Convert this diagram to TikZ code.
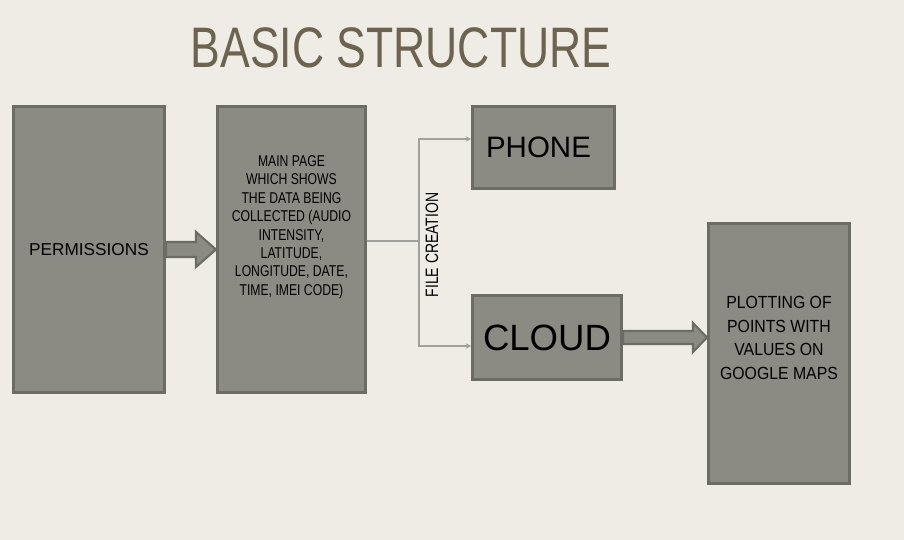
\documentclass[tikz,border=0pt]{standalone}
\usepackage{fontspec}
\setmainfont{Liberation Sans}
\newfontfamily\narrowfont{Liberation Sans}[FakeStretch=0.78]
\newfontfamily\semifont{Liberation Sans}[FakeStretch=0.9]
\usetikzlibrary{positioning, arrows.meta, calc}

\definecolor{bgcol}{RGB}{238,236,228}
\definecolor{boxfill}{RGB}{139,139,131}
\definecolor{boxline}{RGB}{108,108,100}
\definecolor{titlecol}{RGB}{108,99,80}
\definecolor{linkcol}{RGB}{160,160,156}

\begin{document}
\begin{tikzpicture}[x=0.02cm, y=-0.02cm,
        block/.style={draw=boxline, fill=boxfill, line width=1.7pt, rectangle, inner sep=0pt, align=center, text=black},
        bigarrow/.style={draw=boxline, fill=boxfill, line width=1.2pt, line join=miter},
        link/.style={draw=linkcol, line width=0.6pt},
        >={Stealth[length=3pt, width=3pt]}]

        % Fundo
        \fill[bgcol] (0,0) rectangle (904,540);

        % Titulo
        \node (title) [text=titlecol, font=\narrowfont\fontsize{32.5}{35}\selectfont] at (401,48) {BASIC STRUCTURE};

        % Blocos
        \node (perm) [block, minimum width=3.02cm, minimum height=5.72cm, font=\fontsize{9.8}{12}\selectfont] at (89,249.5) {PERMISSIONS};
        \node (main) [block, minimum width=2.96cm, minimum height=5.72cm, right=1cm of perm,
            label={[align=center, yshift=0.45cm, font=\narrowfont\fontsize{8.9}{10.5}\selectfont]center:MAIN PAGE\\WHICH SHOWS\\THE DATA BEING\\COLLECTED (AUDIO\\INTENSITY,\\LATITUDE,\\LONGITUDE, DATE,\\TIME, IMEI CODE)}] {};
        \node (phone) [block, minimum width=2.84cm, minimum height=1.64cm, font=\fontsize{16.8}{20}\selectfont] at (543.5,147.5) {\hspace*{-0.2cm}PHONE};
        \node (cloud) [block, minimum width=2.98cm, minimum height=1.68cm, font=\fontsize{20.8}{24}\selectfont] at (547,337.5) {CLOUD};
        \node (plot) [block, minimum width=2.82cm, minimum height=5.2cm,
            label={[align=center, yshift=0.31cm, font=\semifont\fontsize{10}{13.6}\selectfont]center:PLOTTING OF\\POINTS WITH\\VALUES ON\\GOOGLE MAPS}] at (779,353.5) {};

        % Texto vertical
        \node (file) [rotate=90, font=\narrowfont\fontsize{10.2}{12}\selectfont] at (432,245) {FILE CREATION};

        % Conexoes
        \coordinate (fork) at (419,241);
        \draw[link] (main.east |- fork) -- (fork);
        \draw[link, ->] (fork) |- ($(phone.west)+(0,-8.5)$);
        \draw[link, ->] (fork) |- ($(cloud.west)+(0,8.5)$);

        % Setas grossas
        \draw[bigarrow] ($(perm.east)+(0,-7.5)$) -- ++(30,0) -- ++(0,-10) -- (main.west)
            -- ($(perm.east)+(30,17.5)$) -- ++(0,-10) -- ($(perm.east)+(0,7.5)$) -- cycle;
        \draw[bigarrow] ($(cloud.east)+(0,-6.5)$) -- ++(70,0) -- ++(0,-8) -- (plot.west |- cloud.east)
            -- ($(cloud.east)+(70,14.5)$) -- ++(0,-8) -- ($(cloud.east)+(0,6.5)$) -- cycle;

    \end{tikzpicture}
\end{document}
